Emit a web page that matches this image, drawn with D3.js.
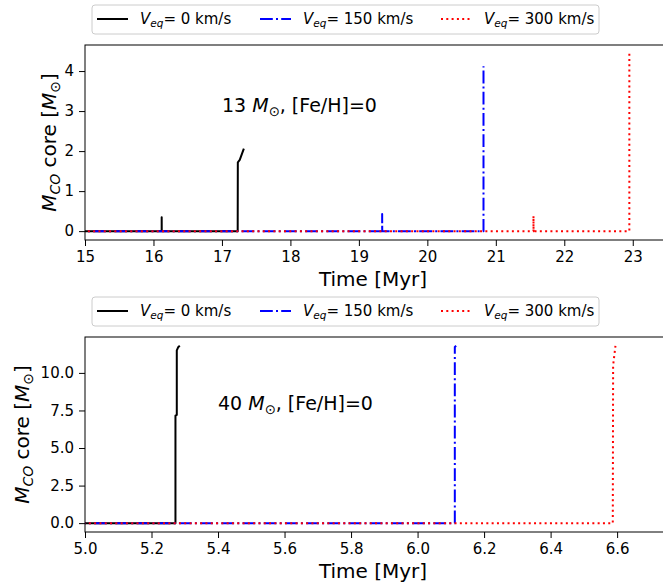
<!DOCTYPE html>
<html><head><meta charset="utf-8">
<script src="https://cdn.jsdelivr.net/npm/d3@7"></script>
<style>
body{margin:0;background:#fff}
text{font-family:"DejaVu Sans",sans-serif;fill:#000}
</style>
</head><body>
<svg id="fig" width="663" height="586"></svg>
<script>
// Rotation velocities shown in the legends (km/s)
const velocities = ["0", "150", "300"];
const colors = ["#000000", "#0000ff", "#ff0000"];
const dashes = [null, "12.8,3.2,2,3.2", "2,3.3"];

// 13 Msun model: time [Myr] and CO core mass [Msun]
const t13_v0   = [14.5, 16.12, 16.12, 16.121, 17.23, 17.232, 17.26, 17.32];
const m13_v0   = [0,    0,     0.35,  0,      0,     1.72,   1.78,  2.06];
const t13_v150 = [14.5, 19.34, 19.34, 19.341, 20.82, 20.82];
const m13_v150 = [0,    0,     0.43,  0,      0,     4.12];
const t13_v300 = [14.5, 21.55, 21.55, 21.551, 22.95, 22.95];
const m13_v300 = [0,    0,     0.38,  0,      0,     4.43];

// 40 Msun model
const t40_v0   = [4.9, 5.272, 5.272, 5.276, 5.276, 5.28, 5.285];
const m40_v0   = [0,   0,     7.15,  7.2,   11.5,  11.7, 11.8];
const t40_v150 = [4.9, 6.112, 6.112, 6.116];
const m40_v150 = [0,   0,     11.72, 11.8];
const t40_v300 = [4.9, 6.587, 6.588, 6.595];
const m40_v300 = [0,   0,     10.5,  11.8];

// Axis ticks
const xTicks13 = [15, 16, 17, 18, 19, 20, 21, 22, 23];
const yTicks13 = [0, 1, 2, 3, 4];
const xTicks40 = [5.0, 5.2, 5.4, 5.6, 5.8, 6.0, 6.2, 6.4, 6.6];
const yTicks40 = [0.0, 2.5, 5.0, 7.5, 10.0];

const svg = d3.select("#fig");

function zip(t, m) { return t.map((v, i) => [v, m[i]]); }

function panel(cfg) {
  const L = 85, R = 667, T = cfg.top, B = cfg.bottom;
  const x = d3.scaleLinear().domain(cfg.xDomain).range([L, R]);
  const y = d3.scaleLinear().domain(cfg.yDomain).range([B, T]);
  const g = svg.append("g");

  const clipId = "clip" + cfg.id;
  svg.append("clipPath").attr("id", clipId)
    .append("rect").attr("x", L).attr("y", T).attr("width", R - L).attr("height", B - T);

  const line = d3.line().x(d => x(d[0])).y(d => y(d[1]));
  const lines = g.append("g").attr("clip-path", `url(#${clipId})`);
  cfg.series.forEach((s, i) => {
    lines.append("path")
      .attr("d", line(s))
      .attr("fill", "none")
      .attr("stroke", colors[i])
      .attr("stroke-width", 2)
      .attr("stroke-linecap", "butt")
      .attr("stroke-linejoin", "round")
      .attr("stroke-dasharray", dashes[i]);
  });

  // Axes
  const xAxis = d3.axisBottom(x).tickValues(cfg.xTicks).tickFormat(cfg.xFmt)
    .tickSizeInner(6).tickSizeOuter(0).tickPadding(5);
  const yAxis = d3.axisLeft(y).tickValues(cfg.yTicks).tickFormat(cfg.yFmt)
    .tickSizeInner(6).tickSizeOuter(0).tickPadding(5);
  const gx = g.append("g").attr("transform", `translate(0,${B})`).call(xAxis);
  const gy = g.append("g").attr("transform", `translate(${L},0)`).call(yAxis);
  [gx, gy].forEach(a => {
    a.select(".domain").remove();
    a.selectAll("line").attr("stroke", "#000").attr("stroke-width", 1);
    a.selectAll("text").style("font-family", "DejaVu Sans").style("font-size", "15px").attr("fill", "#000");
  });
  gx.selectAll("text").attr("dy", "0.72em");

  // Frame
  g.append("rect").attr("x", L).attr("y", T).attr("width", R - L).attr("height", B - T)
    .attr("fill", "none").attr("stroke", "#000").attr("stroke-width", 1);

  // Axis labels
  g.append("text").attr("x", 373).attr("y", B + 46)
    .attr("text-anchor", "middle").style("font-size", "20px").text("Time [Myr]");

  const yl = g.append("text")
    .attr("transform", `translate(${cfg.yLabelX},${(T + B) / 2}) rotate(-90)`)
    .attr("text-anchor", "middle").style("font-size", "20px");
  yl.append("tspan").style("font-style", "italic").text("M");
  yl.append("tspan").style("font-style", "italic").style("font-size", "14px").attr("dy", 4).text("CO");
  yl.append("tspan").attr("dy", -4).text(" core [");
  yl.append("tspan").style("font-style", "italic").text("M");
  yl.append("tspan").style("font-size", "14px").attr("dy", 4).text("\u2299");
  yl.append("tspan").attr("dy", -4).text("]");

  // Model annotation
  const note = g.append("text").attr("x", cfg.noteX).attr("y", cfg.noteY).style("font-size", "19px");
  note.append("tspan").text(cfg.mass + " ");
  note.append("tspan").style("font-style", "italic").text("M");
  note.append("tspan").style("font-size", "13.3px").attr("dy", 4).text("\u2299");
  note.append("tspan").attr("dy", -4).text(", [Fe/H]=0");

  // Legend
  const lt = cfg.legendTop;
  const lg = g.append("g");
  lg.append("rect").attr("x", 92).attr("y", lt).attr("width", 507).attr("height", 29)
    .attr("rx", 3).attr("fill", "#fff").attr("fill-opacity", 0.8)
    .attr("stroke", "#cccccc").attr("stroke-width", 1);
  const entryX = [97, 260, 441];
  velocities.forEach((v, i) => {
    const ex = entryX[i];
    lg.append("line").attr("x1", ex).attr("x2", ex + 31).attr("y1", lt + 14).attr("y2", lt + 14)
      .attr("stroke", colors[i]).attr("stroke-width", 2).attr("stroke-dasharray", dashes[i]);
    const t = lg.append("text").attr("x", ex + 43).attr("y", lt + 19).style("font-size", "15px");
    t.append("tspan").style("font-style", "italic").text("V");
    t.append("tspan").style("font-style", "italic").style("font-size", "10.5px").attr("dy", 3).text("eq");
    t.append("tspan").attr("dy", -3).text("= " + v + " km/s");
  });
}

panel({
  id: 13, top: 45, bottom: 240,
  xDomain: [15, 23.5], yDomain: [-0.2215, 4.651],
  xTicks: xTicks13, yTicks: yTicks13,
  xFmt: d3.format("d"), yFmt: d3.format("d"),
  series: [zip(t13_v0, m13_v0), zip(t13_v150, m13_v150), zip(t13_v300, m13_v300)],
  yLabelX: 56, noteX: 222, noteY: 112, mass: "13", legendTop: 5
});

panel({
  id: 40, top: 337, bottom: 532,
  xDomain: [5.0, 6.75], yDomain: [-0.59, 12.39],
  xTicks: xTicks40, yTicks: yTicks40,
  xFmt: d3.format(".1f"), yFmt: d3.format(".1f"),
  series: [zip(t40_v0, m40_v0), zip(t40_v150, m40_v150), zip(t40_v300, m40_v300)],
  yLabelX: 29, noteX: 218, noteY: 410, mass: "40", legendTop: 297
});
</script>
</body></html>
